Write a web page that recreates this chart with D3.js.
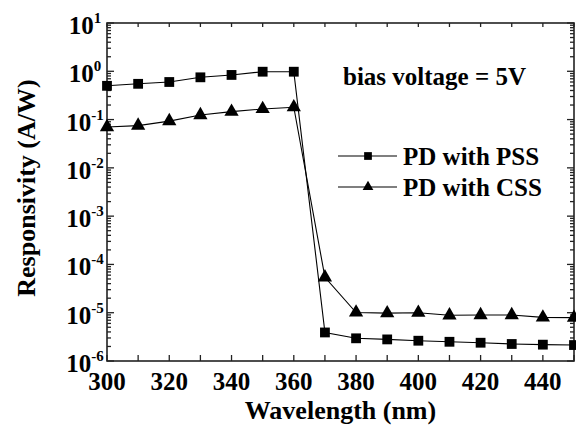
<!DOCTYPE html>
<html>
<head>
<meta charset="utf-8">
<script src="https://cdn.jsdelivr.net/npm/d3@7"></script>
</head>
<body style="margin:0">
<svg width="576" height="430" id="chart"></svg>
<script>
// wavelengths (nm)
const wavelength = [300, 310, 320, 330, 340, 350, 360, 370, 380, 390, 400, 410, 420, 430, 440, 450];
// responsivity (A/W)
const pssValues = [0.50, 0.55, 0.60, 0.75, 0.84, 0.98, 0.98, 3.9e-6, 2.95e-6, 2.8e-6, 2.63e-6, 2.5e-6, 2.39e-6, 2.25e-6, 2.18e-6, 2.14e-6];
const cssValues = [0.070, 0.075, 0.093, 0.124, 0.146, 0.166, 0.18, 5.4e-5, 1.01e-5, 9.8e-6, 1.0e-5, 8.85e-6, 8.95e-6, 8.95e-6, 8.0e-6, 7.9e-6];
const xTicks = [300, 320, 340, 360, 380, 400, 420, 440];
const yExponents = [1, 0, -1, -2, -3, -4, -5, -6];
const seriesNames = ["PD with PSS", "PD with CSS"];
const noteText = "bias voltage = 5V";

const W = 576, H = 430;
const margin = {top: 23, right: 2, bottom: 69, left: 107};

const svg = d3.select("#chart");

// font set straight on every text, as inline style
function label(sel, size) {
    return sel.style("font-family", "Times New Roman")
        .style("font-weight", "bold")
        .style("font-size", size + "px");
}

const x = d3.scaleLinear()
    .domain([300, 450])
    .range([margin.left, W - margin.right]);

const y = d3.scaleLog()
    .domain([1e-6, 10])
    .range([H - margin.bottom, margin.top]);

// minor log ticks
let minorY = [];
yExponents.forEach(e => {
    if (e < 1) for (let k = 2; k <= 9; k++) minorY.push(k * Math.pow(10, e));
});
const majorY = yExponents.map(e => Math.pow(10, e));
const allX = d3.range(300, 451, 10);

const axisColor = "#222";

// inward ticks on all four sides
const tickG = svg.append("g").attr("stroke", axisColor).attr("stroke-width", 1.3);
tickG.selectAll(null).data(allX).enter().append("line")
    .attr("x1", d => x(d)).attr("x2", d => x(d))
    .attr("y1", y.range()[0]).attr("y2", y.range()[0] - 6);
tickG.selectAll(null).data(allX).enter().append("line")
    .attr("x1", d => x(d)).attr("x2", d => x(d))
    .attr("y1", y.range()[1]).attr("y2", y.range()[1] + 4);
[[x.range()[0], 1], [x.range()[1], -1]].forEach(([pos, dir]) => {
    tickG.selectAll(null).data(majorY).enter().append("line")
        .attr("x1", pos).attr("x2", pos + dir * 7)
        .attr("y1", d => y(d)).attr("y2", d => y(d));
    tickG.selectAll(null).data(minorY).enter().append("line")
        .attr("x1", pos).attr("x2", pos + dir * 4)
        .attr("y1", d => y(d)).attr("y2", d => y(d));
});

// frame
svg.append("rect")
    .attr("x", margin.left)
    .attr("y", margin.top)
    .attr("width", W - margin.right - margin.left)
    .attr("height", H - margin.bottom - margin.top)
    .attr("fill", "none")
    .attr("stroke", axisColor)
    .attr("stroke-width", 1.6);

// x tick labels
svg.selectAll(".xlab")
    .data(xTicks)
    .enter().append("text")
    .attr("class", "xlab")
    .call(label, 25)
    .attr("x", d => x(d))
    .attr("y", H - margin.bottom + 29)
    .attr("text-anchor", "middle")
    .text(d => d);

// y tick labels 10^n
const yLab = svg.selectAll(".ylab")
    .data(yExponents)
    .enter().append("text")
    .attr("class", "ylab")
    .call(label, 25)
    .attr("x", 85)
    .attr("y", d => y(Math.pow(10, d)) + 11)
    .attr("text-anchor", "middle");
yLab.append("tspan")
    .text("10");
yLab.append("tspan")
    .style("font-size", "15px")
    .attr("dy", -11)
    .text(d => d);

// axis titles
svg.append("text")
    .call(label, 26)
    .attr("x", (margin.left + W - margin.right) / 2)
    .attr("y", 419)
    .attr("text-anchor", "middle")
    .text("Wavelength (nm)");

svg.append("text")
    .call(label, 26)
    .attr("transform", `translate(35,${188}) rotate(-90)`)
    .attr("text-anchor", "middle")
    .text("Responsivity (A/W)");

// series
const line = d3.line()
    .x(d => x(d[0]))
    .y(d => y(d[1]));

const plot = svg.append("g");
const series = [
    {name: seriesNames[0], values: pssValues, symbol: d3.symbolSquare, size: 96, lsize: 60},
    {name: seriesNames[1], values: cssValues, symbol: d3.symbolTriangle, size: 88, lsize: 50}
];

series.forEach(s => {
    const pts = wavelength.map((w, i) => [w, s.values[i]]);
    plot.append("path")
        .datum(pts)
        .attr("fill", "none")
        .attr("stroke", "#000")
        .attr("stroke-width", 1.1)
        .attr("d", line);
    plot.selectAll(null)
        .data(pts)
        .enter().append("path")
        .attr("d", d3.symbol().type(s.symbol).size(s.size))
        .attr("transform", d => `translate(${x(d[0])},${y(d[1])})`)
        .attr("fill", "#000");
});

// annotation + legend
svg.append("text")
    .call(label, 25)
    .attr("x", 343)
    .attr("y", 85)
    .text(noteText);

series.forEach((s, i) => {
    const ly = 156 + i * 31;
    svg.append("line")
        .attr("x1", 338).attr("x2", 397)
        .attr("y1", ly).attr("y2", ly)
        .attr("stroke", "#000")
        .attr("stroke-width", 1.1);
    svg.append("path")
        .attr("d", d3.symbol().type(s.symbol).size(s.lsize))
        .attr("transform", `translate(368,${ly})`)
        .attr("fill", "#000");
    svg.append("text")
        .call(label, 25)
        .attr("x", 403)
        .attr("y", ly + 9)
        .text(s.name);
});
</script>
</body>
</html>
